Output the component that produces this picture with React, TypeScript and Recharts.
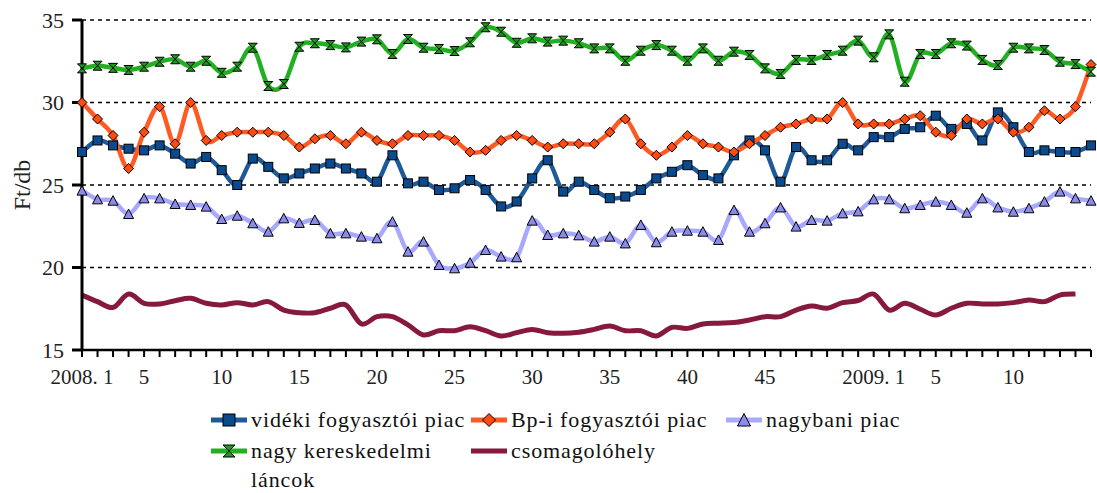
import React from "react";
import { LineChart, Line, XAxis, YAxis, CartesianGrid } from "recharts";

// weeks: 2008 week 1..51, 2009 week 1..15
const weeks2008 = 51;
const weeks2009 = 15;
const weeks = [
  ...Array.from({ length: weeks2008 }, (_, i) => `2008. ${i + 1}`),
  ...Array.from({ length: weeks2009 }, (_, i) => `2009. ${i + 1}`),
];
const labelledWeeks = [
  "2008. 1", "2008. 5", "2008. 10", "2008. 15", "2008. 20", "2008. 25", "2008. 30",
  "2008. 35", "2008. 40", "2008. 45", "2009. 1", "2009. 5", "2009. 10",
];

const yTicks = [15, 20, 25, 30, 35];

const videki = [
  27.0, 27.7, 27.4, 27.2, 27.1, 27.4, 26.9, 26.3, 26.7, 25.9,
  25.0, 26.6, 26.1, 25.4, 25.7, 26.0, 26.3, 26.0, 25.7, 25.2,
  26.8, 25.1, 25.2, 24.7, 24.8, 25.3, 24.7, 23.7, 24.0, 25.4,
  26.5, 24.6, 25.2, 24.7, 24.2, 24.3, 24.7, 25.4, 25.8, 26.2,
  25.6, 25.4, 26.8, 27.7, 27.1, 25.2, 27.3, 26.5, 26.5, 27.5,
  27.1, 27.9, 27.9, 28.4, 28.5, 29.2, 28.4, 28.7, 27.7, 29.4,
  28.5, 27.0, 27.1, 27.0, 27.0, 27.4,
];

const budapest = [
  30.0, 29.0, 28.0, 26.0, 28.2, 29.75, 27.5, 30.0, 27.7, 28.0,
  28.2, 28.2, 28.2, 28.0, 27.3, 27.8, 28.0, 27.5, 28.2, 27.7,
  27.5, 28.0, 28.0, 28.0, 27.7, 27.0, 27.1, 27.7, 28.0, 27.7,
  27.3, 27.5, 27.5, 27.5, 28.2, 29.0, 27.5, 26.8, 27.3, 28.0,
  27.5, 27.3, 27.0, 27.5, 28.0, 28.5, 28.7, 29.0, 29.0, 30.0,
  28.7, 28.7, 28.7, 29.0, 29.2, 28.2, 28.0, 29.0, 28.7, 29.0,
  28.2, 28.5, 29.5, 29.0, 29.75, 32.3,
];

const nagybani = [
  24.66, 24.13, 24.05, 23.24, 24.19, 24.19, 23.85, 23.79, 23.69, 22.94,
  23.14, 22.68, 22.17, 22.98, 22.7, 22.88, 22.07, 22.07, 21.87, 21.77,
  22.78, 20.96, 21.57, 20.15, 19.95, 20.29, 21.06, 20.66, 20.62, 22.84,
  21.97, 22.07, 21.95, 21.57, 21.87, 21.46, 22.58, 21.53, 22.17, 22.23,
  22.17, 21.67, 23.48, 22.17, 22.68, 23.64, 22.48, 22.88, 22.84, 23.28,
  23.4, 24.13, 24.13, 23.59, 23.79, 23.99, 23.79, 23.32, 24.19, 23.64,
  23.38, 23.59, 23.99, 24.6, 24.19, 24.05,
];

const lancok = [
  32.07, 32.23, 32.1, 31.97, 32.17, 32.47, 32.62, 32.17, 32.53, 31.8,
  32.17, 33.32, 31.0, 31.12, 33.38, 33.59, 33.48, 33.34, 33.69, 33.83,
  32.94, 33.85, 33.32, 33.24, 33.12, 33.65, 34.56, 34.29, 33.62, 33.89,
  33.69, 33.75, 33.59, 33.28, 33.28, 32.53, 33.14, 33.48, 33.14, 32.53,
  33.28, 32.53, 33.08, 32.88, 32.07, 31.73, 32.58, 32.58, 32.88, 33.14,
  33.75, 32.74, 34.13, 31.26, 32.94, 32.94, 33.59, 33.45, 32.58, 32.27,
  33.32, 33.28, 33.18, 32.47, 32.33, 31.87,
];

const csomagolo = [
  18.33, 17.93, 17.58, 18.39, 17.83, 17.79, 17.99, 18.13, 17.83, 17.73,
  17.87, 17.73, 17.93, 17.42, 17.26, 17.26, 17.53, 17.73, 16.58, 17.02,
  17.02, 16.52, 15.91, 16.17, 16.17, 16.41, 16.17, 15.85, 16.05, 16.25,
  16.05, 16.01, 16.08, 16.25, 16.45, 16.17, 16.17, 15.85, 16.37, 16.31,
  16.58, 16.62, 16.66, 16.82, 17.02, 17.02, 17.42, 17.67, 17.53, 17.87,
  18.0, 18.39, 17.42, 17.83, 17.47, 17.12, 17.53, 17.83, 17.79, 17.79,
  17.87, 18.03, 17.93, 18.33, 18.39, null,
];

const data = weeks.map((week, i) => ({
  week,
  videki: videki[i],
  budapest: budapest[i],
  nagybani: nagybani[i],
  lancok: lancok[i],
  csomagolo: csomagolo[i],
}));

type Shape = "square" | "diamond" | "triangle" | "hourglass" | "none";

const series: { key: string; name: string; line: string; fill: string; shape: Shape }[] = [
  { key: "videki", name: "vidéki fogyasztói piac", line: "#1f5a98", fill: "#0b4a8c", shape: "square" },
  { key: "budapest", name: "Bp-i fogyasztói piac", line: "#ff5a22", fill: "#ff4a12", shape: "diamond" },
  { key: "nagybani", name: "nagybani piac", line: "#a8a8ff", fill: "#8c8ce8", shape: "triangle" },
  { key: "lancok", name: "nagy kereskedelmi láncok", line: "#22b022", fill: "#1c9a1c", shape: "hourglass" },
  { key: "csomagolo", name: "csomagolóhely", line: "#86193c", fill: "#86193c", shape: "none" },
];

// Excel-like smoothing (Catmull-Rom as cubic bezier)
const excelSmooth = (context: any) => {
  let pts: number[][] = [];
  return {
    areaStart() {},
    areaEnd() {},
    lineStart() {
      pts = [];
    },
    point(x: number, y: number) {
      pts.push([+x, +y]);
    },
    lineEnd() {
      const n = pts.length;
      if (!n) return;
      context.moveTo(pts[0][0], pts[0][1]);
      for (let i = 0; i < n - 1; i++) {
        const p0 = pts[Math.max(i - 1, 0)];
        const p1 = pts[i];
        const p2 = pts[i + 1];
        const p3 = pts[Math.min(i + 2, n - 1)];
        context.bezierCurveTo(
          p1[0] + (p2[0] - p0[0]) / 6,
          p1[1] + (p2[1] - p0[1]) / 6,
          p2[0] - (p3[0] - p1[0]) / 6,
          p2[1] - (p3[1] - p1[1]) / 6,
          p2[0],
          p2[1]
        );
      }
    },
  };
};

function Marker({ shape, cx, cy, fill, r = 4.5 }: { shape: Shape; cx: number; cy: number; fill: string; r?: number }) {
  const s = { fill, stroke: "#000", strokeWidth: 1 };
  if (shape === "square") return <rect x={cx - r} y={cy - r} width={r * 2} height={r * 2} {...s} />;
  if (shape === "diamond")
    return <path d={`M${cx},${cy - r - 0.5}L${cx + r + 0.5},${cy}L${cx},${cy + r + 0.5}L${cx - r - 0.5},${cy}Z`} {...s} />;
  if (shape === "triangle")
    return <path d={`M${cx},${cy - r - 0.5}L${cx + r + 0.5},${cy + r}L${cx - r - 0.5},${cy + r}Z`} {...s} />;
  if (shape === "hourglass")
    return <path d={`M${cx - r},${cy - r}H${cx + r}L${cx - r},${cy + r}H${cx + r}Z`} {...s} />;
  return null;
}

const makeDot = (shape: Shape, fill: string) => (p: any) => {
  if (p.cx == null || p.cy == null || p.value == null) return <g key={p.index} />;
  return (
    <g key={p.index}>
      <Marker shape={shape} cx={p.cx} cy={p.cy} fill={fill} />
    </g>
  );
};

const tickFormat = (w: string) => {
  if (!labelledWeeks.includes(w)) return "";
  const num = w.split(". ")[1];
  return num === "1" ? w : num;
};

function ChartLegend() {
  return (
    <div
      style={{
        position: "absolute",
        left: 210,
        top: 405,
        display: "grid",
        gridTemplateColumns: "260px 255px 220px",
        rowGap: 2,
        fontSize: 22,
        letterSpacing: 0.9,
        lineHeight: "29px",
        color: "#111",
      }}
    >
      {series.map((s) => (
        <div key={s.key} style={{ display: "flex", alignItems: "flex-start" }}>
          <svg width={38} height={29} style={{ flex: "none" }}>
            <line x1={1} x2={37} y1={15} y2={15} stroke={s.line} strokeWidth={5} />
            <Marker shape={s.shape} cx={19} cy={15} fill={s.fill} r={6} />
          </svg>
          <span style={{ marginLeft: 3, maxWidth: 215 }}>{s.name}</span>
        </div>
      ))}
    </div>
  );
}

export default function App() {
  return (
    <div
      style={{
        position: "absolute",
        left: 0,
        top: 0,
        width: 1097,
        height: 493,
        background: "#fff",
        fontFamily: '"Liberation Serif", "Times New Roman", serif',
      }}
    >
      <LineChart width={1097} height={400} data={data} margin={{ top: 20, right: 6, bottom: 0, left: 0 }}>
        <CartesianGrid vertical={false} stroke="#000" strokeWidth={1.5} strokeDasharray="4 4" />
        <XAxis
          dataKey="week"
          interval={0}
          height={50}
          tickSize={7}
          tickMargin={12}
          tickFormatter={tickFormat}
          axisLine={{ stroke: "#000", strokeWidth: 2.5 }}
          tickLine={{ stroke: "#000", strokeWidth: 2 }}
          tick={{ fontSize: 21, fill: "#222" }}
        />
        <YAxis
          domain={[15, 35]}
          ticks={yTicks}
          width={82}
          tickSize={10}
          tickMargin={8}
          axisLine={{ stroke: "#000", strokeWidth: 3 }}
          tickLine={{ stroke: "#000", strokeWidth: 3 }}
          tick={{ fontSize: 22, fill: "#222" }}
          label={{
            content: () => (
              <text x={22} y={185} transform="rotate(-90 22 185)" textAnchor="middle" dominantBaseline="central" fontSize={24} fill="#222">
                Ft/db
              </text>
            ),
          }}
        />
        {series.map((s) => (
          <Line
            key={s.key}
            dataKey={s.key}
            name={s.name}
            type={excelSmooth as any}
            stroke={s.line}
            strokeWidth={s.shape === "none" ? 5 : 4.5}
            dot={s.shape === "none" ? false : makeDot(s.shape, s.fill)}
            activeDot={false}
            isAnimationActive={false}
          />
        ))}
      </LineChart>
      <ChartLegend />
    </div>
  );
}
